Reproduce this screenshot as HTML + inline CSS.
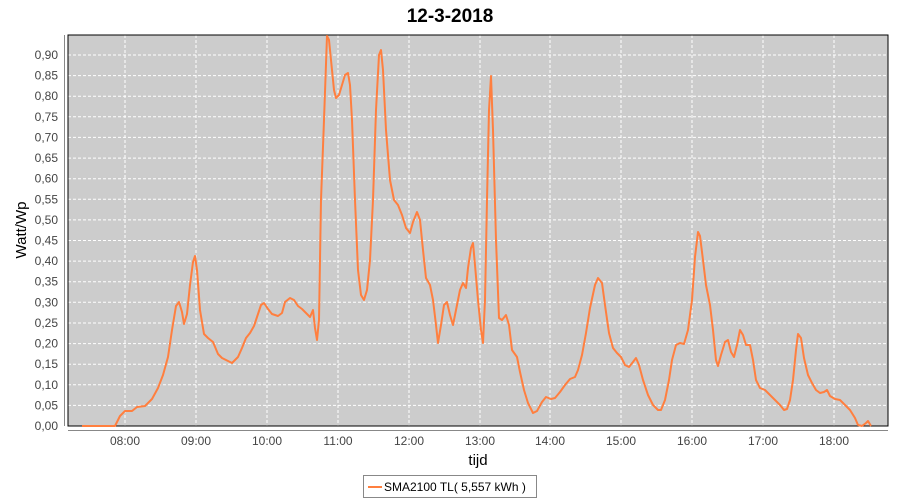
<!DOCTYPE html>
<html><head><meta charset="utf-8"><style>body{margin:0;background:#fff}svg{display:block}</style></head><body>
<svg width="900" height="500" xmlns="http://www.w3.org/2000/svg" font-family="Liberation Sans, sans-serif">
<rect width="900" height="500" fill="#fff"/>
<text x="450" y="22" text-anchor="middle" font-size="19" font-weight="bold" fill="#000">12-3-2018</text>
<rect x="68" y="35" width="820" height="391" fill="#cccccc"/>
<g stroke="#fff" stroke-dasharray="3,2" stroke-width="1">
<line x1="68" x2="888" y1="405.4" y2="405.4"/><line x1="68" x2="888" y1="384.8" y2="384.8"/><line x1="68" x2="888" y1="364.2" y2="364.2"/><line x1="68" x2="888" y1="343.6" y2="343.6"/><line x1="68" x2="888" y1="323" y2="323"/><line x1="68" x2="888" y1="302.3" y2="302.3"/><line x1="68" x2="888" y1="281.7" y2="281.7"/><line x1="68" x2="888" y1="261.1" y2="261.1"/><line x1="68" x2="888" y1="240.5" y2="240.5"/><line x1="68" x2="888" y1="219.9" y2="219.9"/><line x1="68" x2="888" y1="199.3" y2="199.3"/><line x1="68" x2="888" y1="178.7" y2="178.7"/><line x1="68" x2="888" y1="158.1" y2="158.1"/><line x1="68" x2="888" y1="137.4" y2="137.4"/><line x1="68" x2="888" y1="116.8" y2="116.8"/><line x1="68" x2="888" y1="96.2" y2="96.2"/><line x1="68" x2="888" y1="75.6" y2="75.6"/><line x1="68" x2="888" y1="55" y2="55"/>
<line y1="35" y2="426" x1="125" x2="125"/><line y1="35" y2="426" x1="196" x2="196"/><line y1="35" y2="426" x1="267" x2="267"/><line y1="35" y2="426" x1="338" x2="338"/><line y1="35" y2="426" x1="409" x2="409"/><line y1="35" y2="426" x1="480" x2="480"/><line y1="35" y2="426" x1="550" x2="550"/><line y1="35" y2="426" x1="621" x2="621"/><line y1="35" y2="426" x1="692" x2="692"/><line y1="35" y2="426" x1="763" x2="763"/><line y1="35" y2="426" x1="834" x2="834"/>
</g>
<rect x="68" y="35" width="820" height="391" fill="none" stroke="#000" stroke-width="1"/>
<g stroke="#888"><line x1="64.5" y1="35" x2="64.5" y2="426"/><line x1="68" y1="430.5" x2="888" y2="430.5"/></g>
<g font-size="12" fill="#444" text-anchor="end">
<text x="58" y="430">0,00</text><text x="58" y="409.4">0,05</text><text x="58" y="388.8">0,10</text><text x="58" y="368.2">0,15</text><text x="58" y="347.6">0,20</text><text x="58" y="327">0,25</text><text x="58" y="306.3">0,30</text><text x="58" y="285.7">0,35</text><text x="58" y="265.1">0,40</text><text x="58" y="244.5">0,45</text><text x="58" y="223.9">0,50</text><text x="58" y="203.3">0,55</text><text x="58" y="182.7">0,60</text><text x="58" y="162.1">0,65</text><text x="58" y="141.4">0,70</text><text x="58" y="120.8">0,75</text><text x="58" y="100.2">0,80</text><text x="58" y="79.6">0,85</text><text x="58" y="59">0,90</text>
</g>
<g font-size="12" fill="#444" text-anchor="middle">
<text x="125" y="445">08:00</text><text x="196" y="445">09:00</text><text x="267" y="445">10:00</text><text x="338" y="445">11:00</text><text x="409" y="445">12:00</text><text x="480" y="445">13:00</text><text x="550" y="445">14:00</text><text x="621" y="445">15:00</text><text x="692" y="445">16:00</text><text x="763" y="445">17:00</text><text x="834" y="445">18:00</text>
</g>
<text x="478" y="465" text-anchor="middle" font-size="15" fill="#000">tijd</text>
<text transform="translate(26,230) rotate(-90)" text-anchor="middle" font-size="15" fill="#000">Watt/Wp</text>
<polyline fill="none" stroke="#ff7f3f" stroke-width="2" stroke-linejoin="round" points="82,426 115,426 120,416 125,411 132,411 137,407 145,406 152,399 158,388 163,375 168,357 172,330 176,306 179,302 182,312 184,324 187,314 190,285 193,262 195,256 197,270 200,310 204,334 208,338 213,342 218,354 222,358 228,361 232,363 238,357 242,348 246,338 250,333 254,326 258,314 261,305 264,303 268,309 272,314 278,316 282,313 285,302 290,298 294,300 298,306 302,309 306,313 310,317 313,310 315,328 317,340 319,320 321,200 324,120 327,36 329,40 332,70 334,90 336,98 339,95 342,85 345,75 348,73 350,85 352,120 355,200 358,270 361,295 364,300 367,290 370,260 373,200 376,110 379,55 381,50 383,70 386,130 390,180 394,200 398,205 402,215 406,228 410,233 413,222 417,212 420,220 423,250 426,278 430,285 433,300 436,325 438,343 441,325 444,305 447,302 450,315 453,325 456,310 460,290 463,283 466,288 468,268 471,248 473,243 475,265 478,300 481,330 483,343 485,300 487,200 489,110 491,76 493,130 496,240 499,318 502,320 506,315 509,325 512,350 517,357 520,372 524,390 528,403 533,413 537,411 542,402 546,397 551,399 555,398 560,392 565,385 570,379 575,377 578,370 582,355 586,333 590,308 595,285 598,278 602,283 605,305 609,333 613,348 617,353 621,357 625,365 629,367 633,362 636,358 639,365 643,380 648,395 653,405 658,410 661,410 665,400 669,380 672,360 676,345 680,343 684,344 688,330 692,300 695,257 698,232 700,236 703,260 706,285 710,305 713,330 716,360 718,366 721,355 725,342 728,340 731,352 734,357 737,345 740,330 743,335 746,345 750,345 753,360 756,380 760,388 765,390 770,395 775,400 780,405 784,410 787,409 790,400 793,380 796,350 798,334 801,338 804,358 808,375 812,383 816,390 820,393 824,392 827,390 830,396 835,399 840,400 845,405 850,410 855,418 858,425 862,426 866,423 868,421 871,426"/>
<rect x="363.5" y="475.5" width="173" height="22" fill="#fff" stroke="#888"/>
<line x1="368" y1="487" x2="382" y2="487" stroke="#ff7f3f" stroke-width="2"/>
<text x="384" y="491" font-size="12" fill="#000">SMA2100 TL( 5,557 kWh )</text>
</svg>
</body></html>
